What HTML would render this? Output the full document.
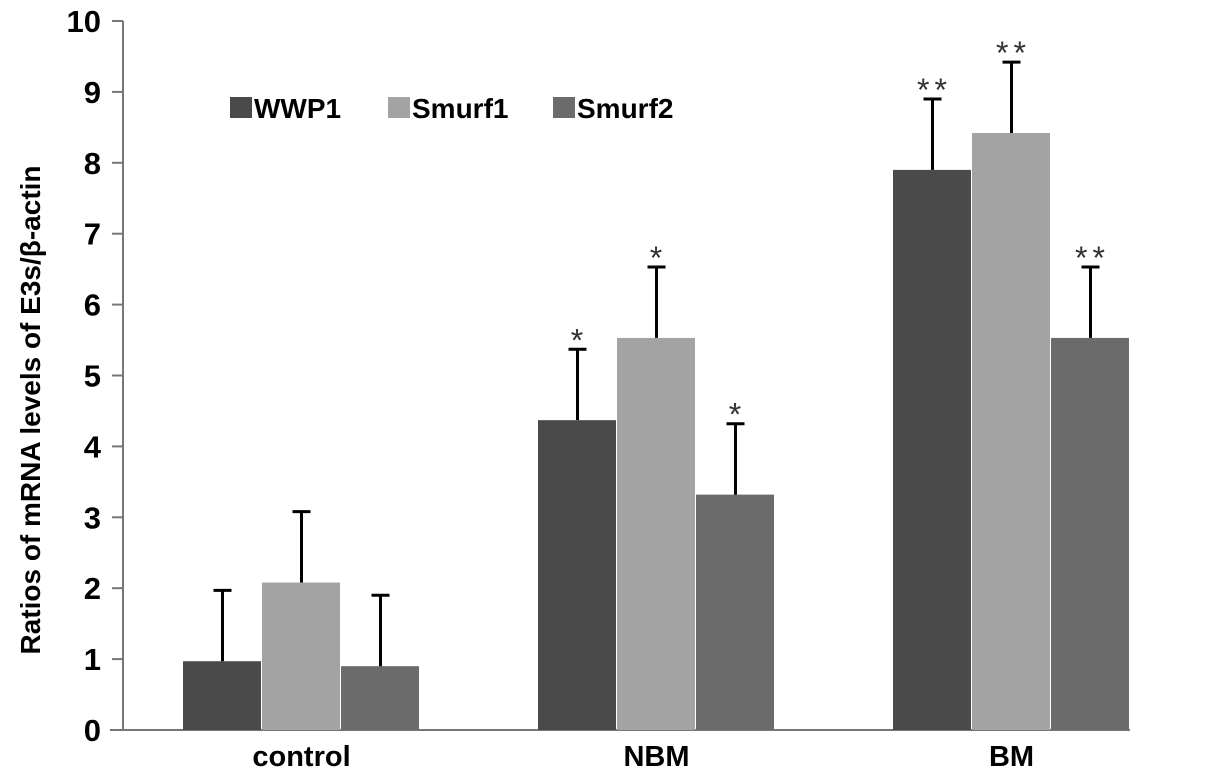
<!DOCTYPE html>
<html><head><meta charset="utf-8"><style>
body{margin:0;background:#fff}
svg text{font-family:"Liberation Sans",Arial,sans-serif;font-weight:bold}
</style></head><body>
<svg id="c" width="1205" height="772"></svg>
<script>
const categories=["control","NBM","BM"];
const seriesNames=["WWP1","Smurf1","Smurf2"];
const wwp1=[0.97,4.37,7.9];
const smurf1=[2.08,5.53,8.42];
const smurf2=[0.9,3.32,5.53];
const errWwp1=[1.0,1.0,1.0];
const errSmurf1=[1.0,1.0,1.0];
const errSmurf2=[1.0,1.0,1.0];
const sigWwp1=["","*","**"];
const sigSmurf1=["","*","**"];
const sigSmurf2=["","*","**"];
const yTicks=[0,1,2,3,4,5,6,7,8,9,10];
const colors=["#4a4a4a","#a3a3a3","#6b6b6b"];
const NS="http://www.w3.org/2000/svg";
const svg=document.getElementById('c');
function el(t,a){const e=document.createElementNS(NS,t);for(const k in a)e.setAttribute(k,a[k]);svg.appendChild(e);return e;}
const y0=730,yTop=21,yMax=10;
const y=v=>y0-(v/yMax)*(y0-yTop);
const groupStart=i=>183+i*355;
const barW=79;
const x=(g,s)=>groupStart(g)+s*barW;
let a=el('line',{x1:123,y1:yTop,x2:123,y2:y0,stroke:'#777','stroke-width':2});

a=el('line',{x1:110,y1:y0,x2:1130,y2:y0,stroke:'#777','stroke-width':2});

yTicks.forEach(t=>{
 const l=el('line',{x1:112,x2:123,y1:y(t),y2:y(t),stroke:'#777','stroke-width':2});
 
 const tx=el('text',{x:101,y:y(t)+11,'text-anchor':'end','font-size':31});
 tx.textContent=t;
 
});
const yt=el('text',{x:0,y:0,'font-size':28,'text-anchor':'middle',transform:'translate(40,410) rotate(-90)'});
yt.textContent='Ratios of mRNA levels of E3s/β-actin';

const series=[wwp1,smurf1,smurf2],errs=[errWwp1,errSmurf1,errSmurf2],sigs=[sigWwp1,sigSmurf1,sigSmurf2];
categories.forEach((c,g)=>{
 series.forEach((s,i)=>{
  const bx=x(g,i);
  const r=el('rect',{x:bx,y:y(s[g]),width:barW-1,height:y0-y(s[g]),fill:colors[i]});
  
  
  const cx=bx+barW/2,top=y(s[g]+errs[i][g]);
  const e=el('path',{d:`M${cx},${y(s[g])}V${top}M${cx-9},${top}H${cx+9}`,stroke:'#000','stroke-width':3,fill:'none'});
  
  if(sigs[i][g]){
   const st=el('text',{x:cx+2,y:top+2,'text-anchor':'middle','font-size':32,'letter-spacing':5,fill:'#333'});
   st.style.fontWeight='normal';
   st.textContent=sigs[i][g];
   
  }
 });
 const cl=el('text',{x:groupStart(g)+barW*1.5,y:y0+36,'text-anchor':'middle','font-size':29});
 cl.textContent=c;
 
});
const legX=[230,388,553];
seriesNames.forEach((n,i)=>{
 const sw=el('rect',{x:legX[i],y:97,width:22,height:21,fill:colors[i]});
 
 const t=el('text',{x:legX[i]+24,y:118,'font-size':28});
 t.textContent=n;
 
});
</script>
</body></html>
